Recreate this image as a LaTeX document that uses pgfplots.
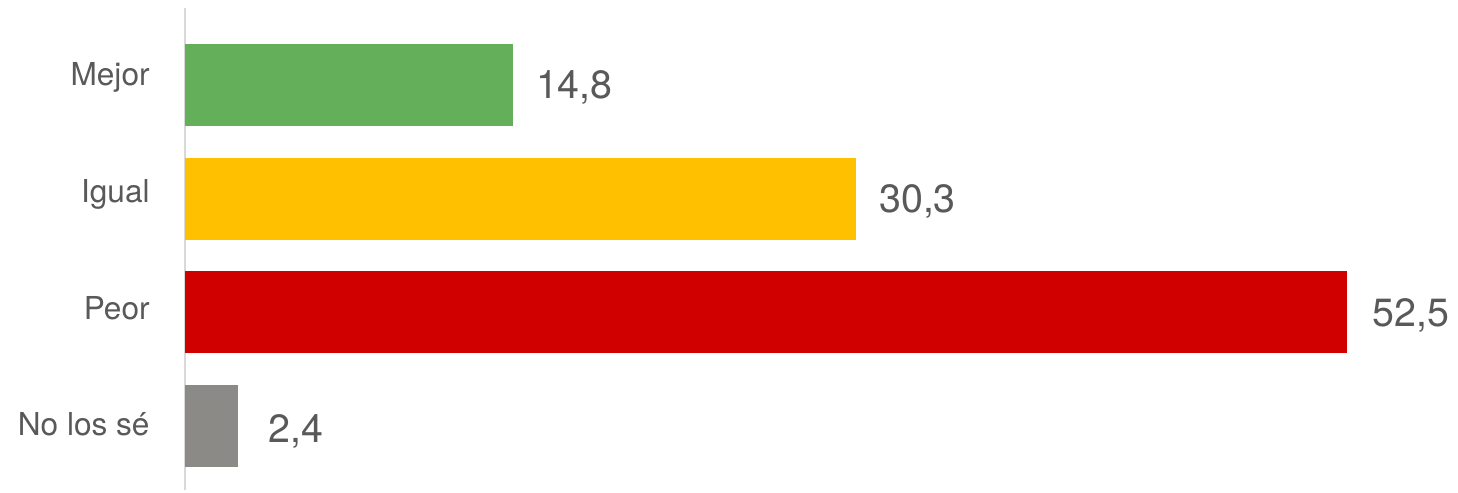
\documentclass[border=0pt]{standalone}
\usepackage{fontspec}
\setmainfont{TeX Gyre Heros}
\usepackage{pgfplots}
\pgfplotsset{compat=1.18}
\definecolor{cgreen}{HTML}{63AF5A}
\definecolor{cyellow}{HTML}{FFC000}
\definecolor{cred}{HTML}{D00000}
\definecolor{cgray}{HTML}{8B8A86}
\definecolor{axgray}{HTML}{D9D9D9}
\definecolor{txt}{HTML}{595959}
\begin{document}
\begin{tikzpicture}
\useasboundingbox (0,0) rectangle (729bp,246.5bp);
\begin{axis}[
  at={(92.5bp,1.5bp)}, anchor=south west,
  scale only axis, width=636.5bp, height=241bp,
  xbar, bar shift=0pt, bar width=0.721,
  xmin=0, xmax=57.5, ymin=-0.563, ymax=3.677,
  axis x line=none,
  axis y line*=left,
  y axis line style={draw=axgray, line width=1bp},
  xtick=\empty,
  ytick={0.0176,1.038,2.067,3.092},
  yticklabels={No los sé,Peor,Igual,Mejor},
  major tick length=0pt,
  yticklabel style={font=\fontsize{15.8bp}{18bp}\selectfont, text=txt, anchor=east, inner sep=0pt, xshift=-17.5bp, text height=11.3bp, text depth=0pt},
  /pgf/number format/assume math mode=true,
  point meta=x,
  nodes near coords={\pgfmathprintnumber[fixed,fixed zerofill,precision=1,use comma]{\pgfplotspointmeta}},
  every node near coord/.append style={font=\fontsize{19.7bp}{22bp}\selectfont, text=txt, anchor=west, inner sep=0pt, xshift=11.5bp, text height=14bp, text depth=0pt},
  clip=false,
]
\addplot[fill=cgreen, draw=none] coordinates {(14.8,3)};
\addplot[fill=cyellow, draw=none] coordinates {(30.3,2)};
\addplot[fill=cred, draw=none, nodes near coords style={xshift=1bp}] coordinates {(52.5,1)};
\addplot[fill=cgray, draw=none, nodes near coords style={xshift=3.5bp, yshift=-1.5bp}] coordinates {(2.4,0)};
\end{axis}
\end{tikzpicture}
\end{document}
